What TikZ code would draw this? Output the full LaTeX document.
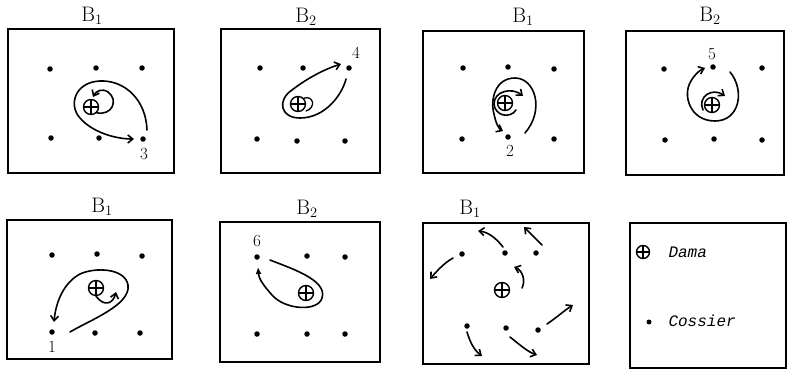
\documentclass[tikz,border=0pt]{standalone}
\usepackage{fontspec}
\newfontfamily\legendfont{Liberation Mono}
\usetikzlibrary{arrows.meta,calc}
\begin{document}
\begin{tikzpicture}[x=1pt,y=-1pt,
  panel/.style={draw, line width=1.8pt},
  dot/.style={circle, fill=black, inner sep=0pt, minimum size=5.5pt},
  dama/.style={circle, draw, line width=1.4pt, inner sep=0pt, minimum size=15pt,
    path picture={\draw[line width=1.1pt] (path picture bounding box.north) -- (path picture bounding box.south)
      (path picture bounding box.west) -- (path picture bounding box.east);}},
  ttl/.style={font=\fontsize{21}{21}\selectfont},
  num/.style={font=\fontsize{17}{17}\selectfont},
  move/.style={line width=1.6pt, line cap=round, -{Straight Barb[length=5pt,width=8pt]}},
  movefill/.style={line width=1.6pt, line cap=round, -{Latex[length=7pt,width=6pt]}},
  leg/.style={font=\legendfont\itshape\fontsize{16}{16}\selectfont, anchor=west}
]
\useasboundingbox (0,0) rectangle (787,369);

% ---------- panel 1 ----------
\draw[panel] (8,29) rectangle (174,173);
\node[ttl] (t1) at (92,16) {B$_1$};
\node[dot] (a1) at (50,69) {};
\node[dot] (a2) at (96,68) {};
\node[dot] (a3) at (142,68) {};
\node[dot] (a4) at (51,138) {};
\node[dot] (a5) at (99,138) {};
\node[dot] (a6) at (143,139) {};
\node[dama] (A) at (91,107) {};
\node[num] (n3) at (144,154) {3};
\draw[move] ($(a6)+(4,-9)$) .. controls (146,100) and (125,80) .. (100,81)
  .. controls (75,82) and (68,105) .. (80,118)
  .. controls (92,132) and (115,139) .. ($(a6)+(-9,0)$);
\draw[move] (A.south east) .. controls (112,116) and (119,100) .. (108,92)
  .. controls (102,88) and (96,91) .. (93,97);

% ---------- panel 2 ----------
\draw[panel] (221,29) rectangle (380,173);
\node[ttl] (t2) at (306,17) {B$_2$};
\node[dot] (b1) at (260,68) {};
\node[dot] (b2) at (303,68) {};
\node[dot] (b3) at (349,68) {};
\node[dot] (b4) at (257,139) {};
\node[dot] (b5) at (297,141) {};
\node[dot] (b6) at (345,141) {};
\node[dama] (B) at (298,104) {};
\node[num] (n4) at (356,53) {4};
\draw[move] ($(b3)+(-3,11)$) .. controls (342,95) and (325,118) .. (300,118)
  .. controls (280,118) and (277,100) .. (292,90)
  .. controls (305,80) and (322,70) .. ($(b3)+(-8,-4)$);
\draw[line width=1.3pt, line cap=round] (B.north east) .. controls (314,95) and (316,108) .. (306,111);

% ---------- panel 3 ----------
\draw[panel] (423,31) rectangle (584,173);
\node[ttl] (t3) at (523,17) {B$_1$};
\node[dot] (c1) at (463,68) {};
\node[dot] (c2) at (508,67) {};
\node[dot] (c3) at (554,69) {};
\node[dot] (c4) at (462,139) {};
\node[dot] (c5) at (508,137) {};
\node[dot] (c6) at (554,139) {};
\node[dama] (C) at (505,103) {};
\node[num] (n2) at (510,151) {2};
\draw[move] ($(c5)+(17,-4)$) .. controls (545,110) and (535,78) .. (515,78)
  .. controls (495,78) and (490,100) .. (494,114)
  .. controls (496,124) and (499,129) .. ($(c5)+(-5,-6)$);
\draw[move] (516,110) .. controls (510,119) and (495,116) .. (494,104)
  .. controls (494,91) and (512,87) .. (523,96);

% ---------- panel 4 ----------
\draw[panel] (626,31) rectangle (784,175);
\node[ttl] (t4) at (710,16) {B$_2$};
\node[dot] (e1) at (664,69) {};
\node[dot] (e2) at (713,67) {};
\node[dot] (e3) at (762,68) {};
\node[dot] (e4) at (665,140) {};
\node[dot] (e5) at (714,139) {};
\node[dot] (e6) at (762,140) {};
\node[dama] (E) at (712,105) {};
\node[num] (n5) at (712,54) {5};
\draw[move] ($(e2)+(17,5)$) .. controls (745,90) and (740,121) .. (715,121)
  .. controls (690,121) and (682,95) .. (691,81)
  .. controls (695,74) and (700,70) .. ($(e2)+(-8,1)$);
\draw[move] (703,110) .. controls (697,97) and (712,87) .. (725,96);

% ---------- panel 5 ----------
\draw[panel] (7,220) rectangle (172,359);
\node[ttl] (t5) at (102,207) {B$_1$};
\node[dot] (f1) at (52,255) {};
\node[dot] (f2) at (97,254) {};
\node[dot] (f3) at (142,256) {};
\node[dot] (f4) at (52,332) {};
\node[dot] (f5) at (95,333) {};
\node[dot] (f6) at (140,333) {};
\node[dama] (F) at (96,288) {};
\node[num] (n1) at (52,347) {1};
\draw[move] ($(f4)+(18,0)$) .. controls (90,320) and (131,305) .. (128,285)
  .. controls (125,268) and (95,267) .. (80,274)
  .. controls (65,282) and (56,300) .. ($(f4)+(2,-10)$);
\draw[move] (F.south) .. controls (104,307) and (113,304) .. (116,292);

% ---------- panel 6 ----------
\draw[panel] (220,222) rectangle (380,362);
\node[ttl] (t6) at (307,209) {B$_2$};
\node[dot] (g1) at (257,257) {};
\node[dot] (g2) at (307,256) {};
\node[dot] (g3) at (345,257) {};
\node[dot] (g4) at (257,334) {};
\node[dot] (g5) at (307,334) {};
\node[dot] (g6) at (345,334) {};
\node[dama] (G) at (306,293) {};
\node[num] (n6) at (257,241) {6};
\draw[movefill] ($(g1)+(13,3)$) .. controls (290,268) and (328,280) .. (322,298)
  .. controls (318,312) and (285,310) .. (272,295)
  .. controls (265,287) and (259,280) .. ($(g1)+(1,10)$);

% ---------- panel 7 ----------
\draw[panel] (423,223) rectangle (589,364);
\node[ttl] (t7) at (470,209) {B$_1$};
\node[dot] (h1) at (462,254) {};
\node[dot] (h2) at (505,253) {};
\node[dot] (h3) at (536,253) {};
\node[dot] (h4) at (467,326) {};
\node[dot] (h5) at (506,328) {};
\node[dot] (h6) at (538,330) {};
\node[dama] (H) at (502,290) {};
\draw[move] ($(h1)+(-9,4)$) .. controls (444,263) and (436,272) .. (430,279);
\draw[move] ($(h2)+(-2,-6)$) .. controls (496,238) and (488,232) .. (478,231);
\draw[move] ($(h3)+(6,-8)$) -- (524,227);
\draw[move] (522,288) .. controls (526,280) and (522,270) .. (514,267);
\draw[move] ($(h4)+(0,6)$) .. controls (470,342) and (474,350) .. (482,356);
\draw[move] ($(h5)+(4,9)$) .. controls (520,345) and (528,352) .. (537,355);
\draw[move] ($(h6)+(9,-6)$) .. controls (556,318) and (565,310) .. (573,305);

% ---------- legend ----------
\draw[panel] (630,223) rectangle (786,368);
\node[dama, minimum size=13pt] (L1) at (643,252) {};
\node[leg] (L1t) at (665,252) {Dama};
\node[dot, minimum size=5pt] (L2) at (649,322) {};
\node[leg] (L2t) at (665,321) {Cossier};
\end{tikzpicture}
\end{document}
